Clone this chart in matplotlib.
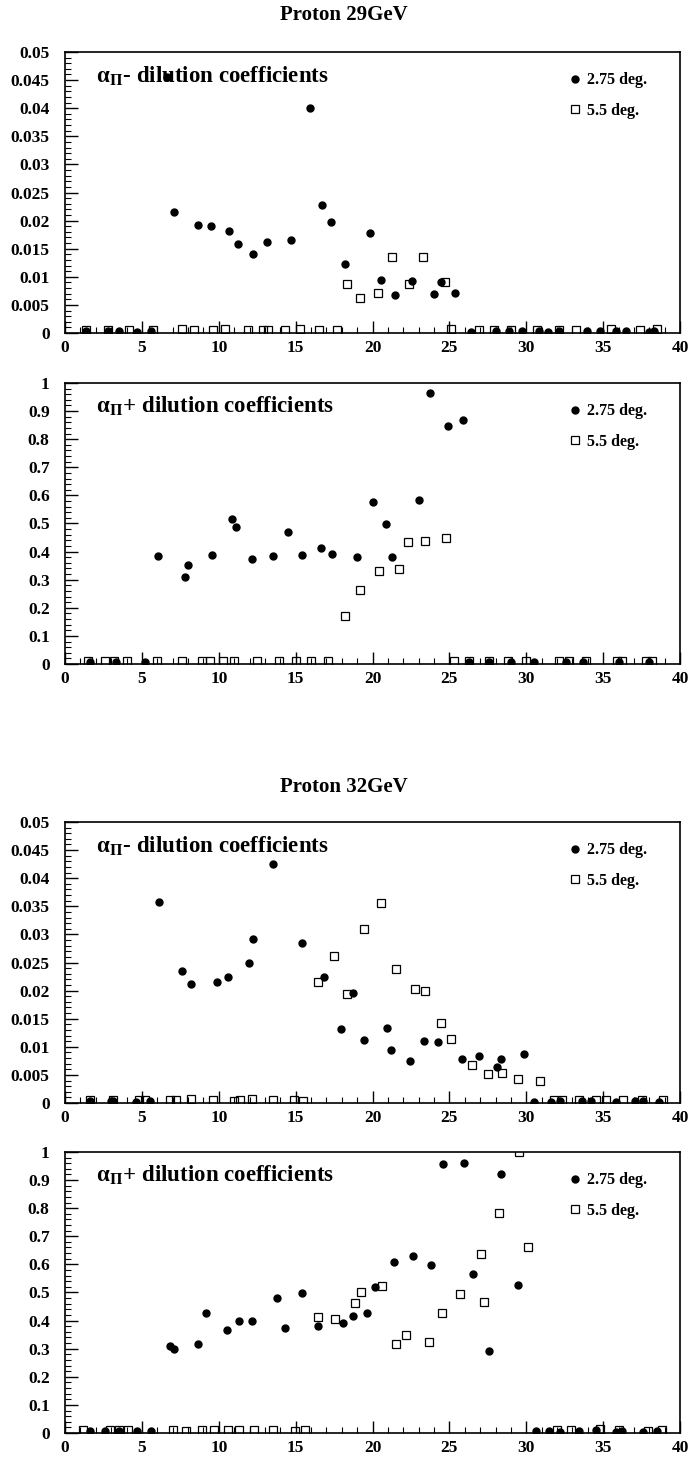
import matplotlib
matplotlib.use("Agg")
import matplotlib.pyplot as plt
from matplotlib.ticker import MultipleLocator, FuncFormatter

plt.rcParams['font.family'] = ['Liberation Serif', 'DejaVu Serif']
plt.rcParams['font.weight'] = 'bold'
plt.rcParams['mathtext.fontset'] = 'stix'

# ---- Proton 29GeV, alpha_Pi- ----
m29_c_x = [1.35, 2.8, 3.5, 4.7, 5.6, 6.65, 7.1, 8.68, 9.48, 10.69, 11.26, 12.2, 13.12, 14.7, 15.9,
           16.68, 17.28, 18.22, 19.86, 20.52, 21.46, 22.58, 23.98, 24.44, 25.39,
           26.4, 28.0, 28.9, 29.7, 30.8, 31.4, 32.1, 33.95, 34.8, 35.8, 36.5, 38.0, 38.3]
m29_c_y = [0.0003, 0.0004, 0.0004, 0.0002, 0.0003, 0.0456, 0.0215, 0.0193, 0.0191, 0.0181, 0.0158, 0.0141, 0.0162, 0.0165, 0.0401,
           0.0227, 0.0198, 0.0122, 0.0178, 0.0094, 0.0067, 0.0093, 0.0070, 0.0090, 0.0071,
           0.0001, 0.0004, 0.0004, 0.0003, 0.0004, 0.0002, 0.0003, 0.0004, 0.0003, 0.0004, 0.0003, 0.0001, 0.0004]
m29_s_x = [1.35, 2.8, 4.15, 5.7, 7.6, 8.4, 9.6, 10.4, 11.9, 12.9, 13.2, 14.3, 15.3, 16.5, 17.7,
           18.37, 19.2, 20.34, 21.29, 22.38, 23.3, 24.7,
           25.1, 26.9, 27.9, 29.0, 30.7, 32.1, 33.2, 35.5, 37.4, 38.5]
m29_s_y = [0.0006, 0.0005, 0.0005, 0.0006, 0.0007, 0.0005, 0.0005, 0.0007, 0.0006, 0.0005, 0.0006, 0.0006, 0.0007, 0.0005, 0.0006,
           0.0087, 0.0063, 0.0072, 0.0135, 0.0087, 0.0135, 0.0091,
           0.0008, 0.0006, 0.0006, 0.0005, 0.0006, 0.0005, 0.0005, 0.0007, 0.0006, 0.0007]

# ---- Proton 29GeV, alpha_Pi+ ----
p29_c_x = [1.6, 3.3, 5.2, 6.02, 7.79, 8.02, 9.57, 10.86, 11.12, 12.15, 13.52, 14.47, 15.42, 16.62, 17.34,
           18.97, 20.0, 20.86, 21.26, 23.04, 23.75, 24.9, 25.9,
           26.3, 27.6, 29.0, 30.5, 32.6, 33.7, 36.0, 38.0]
p29_c_y = [0.008, 0.008, 0.006, 0.383, 0.309, 0.353, 0.388, 0.517, 0.488, 0.375, 0.383, 0.470, 0.389, 0.411, 0.390,
           0.382, 0.578, 0.498, 0.382, 0.583, 0.964, 0.847, 0.867,
           0.008, 0.008, 0.006, 0.008, 0.006, 0.008, 0.008, 0.006]
p29_s_x = [1.5, 2.6, 3.2, 4.0, 6.0, 7.6, 8.9, 9.4, 10.3, 11.0, 12.5, 13.9, 15.0, 16.0, 17.1,
           18.19, 19.2, 20.43, 21.72, 22.32, 23.41, 24.79,
           25.3, 26.3, 27.6, 28.8, 30.0, 32.1, 32.8, 33.9, 35.9, 36.2, 37.8, 38.2]
p29_s_y = [0.010, 0.010, 0.012, 0.010, 0.010, 0.012, 0.010, 0.010, 0.012, 0.010, 0.010, 0.010, 0.010, 0.012, 0.010,
           0.172, 0.263, 0.331, 0.338, 0.433, 0.438, 0.450,
           0.010, 0.010, 0.012, 0.010, 0.010, 0.010, 0.012, 0.010, 0.012, 0.010, 0.010, 0.010]

# ---- Proton 32GeV, alpha_Pi- ----
m32_c_x = [1.6, 3.0, 3.15, 4.6, 5.5, 6.13, 7.59, 8.22, 9.89, 10.57, 11.98, 12.23, 13.5, 15.42, 16.85,
           17.97, 18.71, 19.46, 20.92, 21.23, 22.44, 23.35, 24.27, 25.82, 26.9, 28.08, 28.37, 29.86,
           30.5, 31.6, 32.2, 33.6, 34.2, 35.8, 37.1, 37.6, 38.6]
m32_c_y = [0.0003, 0.0004, 0.0004, 0.0002, 0.0004, 0.0358, 0.0235, 0.0212, 0.0216, 0.0224, 0.0249, 0.0292, 0.0426, 0.0285, 0.0225,
           0.0132, 0.0195, 0.0113, 0.0133, 0.0094, 0.0075, 0.0110, 0.0108, 0.0079, 0.0084, 0.0064, 0.0079, 0.0088,
           0.0002, 0.0002, 0.0004, 0.0003, 0.0004, 0.0001, 0.0003, 0.0003, 0.0002]
m32_s_x = [1.6, 3.15, 4.8, 5.2, 6.8, 7.25, 8.2, 9.6, 11.0, 11.4, 12.15, 13.5, 14.9, 15.45,
           16.45, 17.48, 18.37, 19.43, 20.57, 21.55, 22.78, 23.41, 24.47, 25.1, 26.48, 27.5, 28.45, 29.46, 30.86,
           31.8, 32.3, 33.4, 34.5, 35.2, 36.3, 37.5, 38.9]
m32_s_y = [0.0005, 0.0006, 0.0006, 0.0006, 0.0005, 0.0006, 0.0007, 0.0005, 0.0004, 0.0006, 0.0008, 0.0005, 0.0006, 0.0004,
           0.0215, 0.0261, 0.0194, 0.0309, 0.0355, 0.0239, 0.0203, 0.0199, 0.0142, 0.0114, 0.0068, 0.0052, 0.0054, 0.0042, 0.0039,
           0.0006, 0.0006, 0.0006, 0.0005, 0.0006, 0.0006, 0.0006, 0.0006]

# ---- Proton 32GeV, alpha_Pi+ ----
p32_c_x = [1.6, 2.6, 3.5, 4.7, 5.6, 6.82, 7.08, 8.68, 9.2, 10.54, 11.29, 12.15, 13.78, 14.3, 15.39,
           16.42, 18.08, 18.74, 19.66, 20.14, 21.4, 22.6, 23.81, 24.56, 25.93, 26.56, 27.56, 28.34, 29.48,
           30.6, 31.5, 32.2, 33.4, 34.55, 35.8, 36.2, 37.6, 38.5]
p32_c_y = [0.008, 0.008, 0.006, 0.006, 0.008, 0.310, 0.300, 0.316, 0.426, 0.368, 0.397, 0.397, 0.481, 0.373, 0.498,
           0.381, 0.392, 0.418, 0.426, 0.520, 0.609, 0.628, 0.599, 0.956, 0.962, 0.566, 0.290, 0.921, 0.526,
           0.008, 0.008, 0.004, 0.008, 0.010, 0.004, 0.008, 0.004, 0.006]
p32_s_x = [1.2, 2.9, 3.5, 4.1, 7.0, 7.9, 8.9, 9.7, 10.6, 11.3, 12.3, 13.55, 14.95, 15.6,
           16.42, 17.54, 18.85, 19.23, 20.63, 21.52, 22.18, 23.64, 24.53, 25.67, 27.08, 27.23, 28.22, 29.5, 30.11,
           32.0, 32.9, 34.8, 36.0, 37.9, 38.85]
p32_s_y = [0.010, 0.010, 0.012, 0.010, 0.010, 0.008, 0.010, 0.012, 0.010, 0.010, 0.012, 0.012, 0.008, 0.010,
           0.411, 0.404, 0.464, 0.500, 0.524, 0.316, 0.350, 0.323, 0.426, 0.495, 0.636, 0.467, 0.782, 1.0, 0.663,
           0.010, 0.010, 0.014, 0.012, 0.008, 0.010]

panels = [
    ([0.0945, 0.7719, 0.894, 0.1925], m29_c_x, m29_c_y, m29_s_x, m29_s_y, 0.05, 0.005, 0.001, u'α$_{\\Pi}$- dilution coefficients'),
    ([0.0945, 0.5452, 0.894, 0.1925], p29_c_x, p29_c_y, p29_s_x, p29_s_y, 1.0, 0.1, 0.02, u'α$_{\\Pi}$+ dilution coefficients'),
    ([0.0945, 0.2445, 0.894, 0.1925], m32_c_x, m32_c_y, m32_s_x, m32_s_y, 0.05, 0.005, 0.001, u'α$_{\\Pi}$- dilution coefficients'),
    ([0.0945, 0.0185, 0.894, 0.1925], p32_c_x, p32_c_y, p32_s_x, p32_s_y, 1.0, 0.1, 0.02, u'α$_{\\Pi}$+ dilution coefficients'),
]

fig = plt.figure(figsize=(6.88, 14.6), dpi=100)

for rect, cx, cy, sx, sy, ymax, ymaj, ymin, label in panels:
    ax = fig.add_axes(rect)
    ax.plot(cx, cy, 'o', ms=5, color='black', label='2.75 deg.')
    ax.plot(sx, sy, 's', ms=5.5, mfc='none', mec='black', mew=0.9, label='5.5 deg.')
    ax.set_xlim(0, 40)
    ax.set_ylim(0, ymax)
    ax.xaxis.set_major_locator(MultipleLocator(5))
    ax.xaxis.set_minor_locator(MultipleLocator(1))
    ax.yaxis.set_major_locator(MultipleLocator(ymaj))
    ax.yaxis.set_minor_locator(MultipleLocator(ymin))
    ax.yaxis.set_major_formatter(FuncFormatter(lambda v, p: '%g' % round(v, 4)))
    ax.tick_params(which='both', direction='in', top=False, right=False, labelsize=12.5)
    ax.tick_params(axis='y', pad=11)
    ax.tick_params(axis='x', pad=5)
    ax.tick_params(which='major', length=9, width=1)
    ax.tick_params(which='minor', length=4.5, width=0.8)
    for s in ax.spines.values():
        s.set_linewidth(1.2)
    ax.text(0.05, 0.915, label, transform=ax.transAxes, fontsize=16.5, va='center', ha='left')
    ax.legend(loc='upper left', bbox_to_anchor=(0.805, 0.95), frameon=False, handlelength=1.0,
              handletextpad=0.3, labelspacing=0.9, borderaxespad=0, prop={'size': 11.5, 'weight': 'bold'})

fig.text(0.5, 0.9897, 'Proton 29GeV', ha='center', va='center', fontsize=15)
fig.text(0.5, 0.461, 'Proton 32GeV', ha='center', va='center', fontsize=15)

fig.savefig('out.png', dpi=100)
